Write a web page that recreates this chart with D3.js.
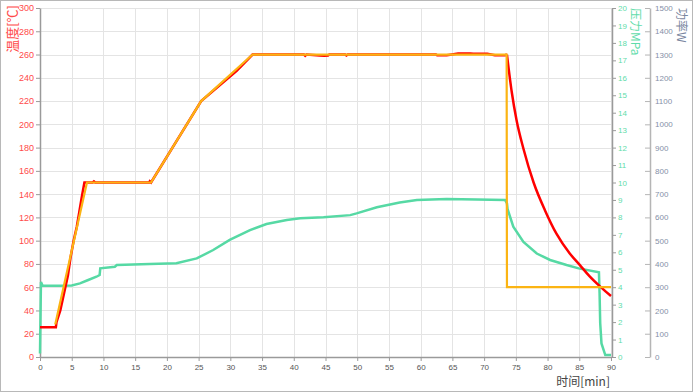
<!DOCTYPE html>
<html>
<head>
<meta charset="utf-8">
<script src="https://cdn.jsdelivr.net/npm/d3@7"></script>
<style>
  body { margin: 0; background: #fff; }
  svg { display: block; font-family: "Liberation Sans", Arial, sans-serif; }
</style>
</head>
<body>
<script>
// setpoint temperature (orange)
let setTime = [2.4, 7.4, 17.5, 25.4, 33.5, 73.55, 73.6, 90];
let setTemp = [28, 150, 150, 220, 260, 260, 60, 60];

// measured temperature (red) - heating part
let tempTime = [0, 2.5, 2.6, 3.2, 3.8, 4.4, 4.8, 5.3, 5.8, 6.2, 6.6, 7.0, 8.3, 8.5, 8.7, 17.2, 17.3, 17.5, 25.4, 31, 33.5,
    41.6, 41.8, 42.0, 44.1, 44.8, 45.4, 45.6, 48.1, 48.3, 48.5, 62.4, 62.6, 63.3, 64.1, 64.9, 65.9, 67.8, 68.3, 70.5, 71.7, 73.3, 73.6];
let tempVal = [25.5, 25.5, 30, 40, 55, 70, 85, 100, 112, 125, 138, 150, 150, 151, 150, 150, 151, 150, 220, 246, 260,
    260, 259, 260, 259.2, 259, 259.2, 260, 260, 259.2, 260, 260, 259.3, 259.3, 259.4, 260, 260.8, 260.8, 260.6, 260.6, 259.3, 259.4, 260];

// measured temperature (red) - cooling part
let coolTime = [73.6, 74.35, 75.1, 76.2, 77.8, 79.6, 81.4, 83.5, 85.1, 86.6, 88.3, 90];
let coolVal = [260, 228, 204, 179, 150, 126, 106, 89, 79, 69.5, 60.5, 52.4];

// pressure MPa (green)
let presTime = [0, 0.15, 0.4, 3, 5, 6.3, 7.5, 8.9, 9.4, 9.5, 11.8, 12.1, 17.3, 21.5, 24.7, 27.3, 29.9, 33.1, 35.7, 38.9, 41,
    44.7, 48.9, 49.9, 53.1, 56.7, 59.4, 64.1, 68.8, 73.3, 73.6, 73.7, 74.6, 76.2, 78.3, 80.4, 83, 84.9, 88.1, 88.2, 88.3, 88.5, 89.1, 90];
let presVal = [0.2, 4.3, 4.1, 4.08, 4.1, 4.22, 4.4, 4.6, 4.7, 5.08, 5.17, 5.27, 5.33, 5.37, 5.65, 6.13, 6.71, 7.27, 7.62, 7.85, 7.95,
    8.01, 8.13, 8.23, 8.58, 8.85, 9.0, 9.05, 9.03, 9.0, 8.8, 8.47, 7.47, 6.6, 5.93, 5.56, 5.27, 5.08, 4.85, 3.65, 1.93, 0.78, 0.11, 0.11];

let xTicks = d3.range(0, 91, 5);
let tempTicks = d3.range(0, 301, 20);
let presTicks = d3.range(0, 21, 1);
let powerTicks = d3.range(0, 1501, 100);

let width = 693, height = 392;
let svg = d3.select("body").append("svg")
    .attr("width", width)
    .attr("height", height);

let x = d3.scaleLinear().domain([0, 90]).range([40, 611]);
let yT = d3.scaleLinear().domain([0, 300]).range([357, 8]);
let yP = d3.scaleLinear().domain([0, 20]).range([357, 8]);
let yW = d3.scaleLinear().domain([0, 1500]).range([357, 8]);

// outer frame
svg.append("rect")
    .attr("x", 0.5).attr("y", 0.5)
    .attr("width", width - 1).attr("height", height - 1)
    .attr("fill", "none").attr("stroke", "#b8b8b8");

// grid
let grid = svg.append("g").attr("stroke", "#e4e4e4").attr("stroke-width", 1);
grid.selectAll(".vg").data(xTicks.slice(1)).join("line")
    .attr("x1", d => Math.round(x(d)) + 0.5).attr("x2", d => Math.round(x(d)) + 0.5)
    .attr("y1", yT(300)).attr("y2", yT(0));
grid.selectAll(".hg").data(tempTicks.slice(1)).join("line")
    .attr("y1", d => Math.round(yT(d)) + 0.5).attr("y2", d => Math.round(yT(d)) + 0.5)
    .attr("x1", x(0)).attr("x2", x(90));

function styleAxis(g, color, lineColor, size) {
    g.select(".domain").attr("stroke", lineColor).attr("stroke-width", 1.5);
    g.selectAll(".tick line").attr("stroke", lineColor);
    g.selectAll(".tick text").attr("fill", color).style("font-size", size + "px");
}

// x axis
let gx = svg.append("g").attr("transform", `translate(0,${yT(0)})`);
gx.call(d3.axisBottom(x).tickValues(d3.range(0, 91, 1)).tickSize(3).tickFormat(""));
gx.call(d3.axisBottom(x).tickValues(xTicks).tickSizeInner(4).tickSizeOuter(0).tickPadding(3));
styleAxis(gx, "#555", "#9a9a9a", 8);

// left temperature axis
let gl = svg.append("g").attr("transform", `translate(${x(0)},0)`);
gl.call(d3.axisLeft(yT).tickValues(d3.range(0, 301, 5)).tickSize(2).tickFormat(""));
gl.call(d3.axisLeft(yT).tickValues(tempTicks).tickSizeInner(4).tickSizeOuter(0).tickPadding(2));
styleAxis(gl, "#ff4a4a", "#9a9a9a", 9);

// pressure axis
let gp = svg.append("g").attr("transform", `translate(612,0)`);
gp.call(d3.axisRight(yP).tickValues(d3.range(0, 20.01, 0.25)).tickSize(2).tickFormat(""));
gp.call(d3.axisRight(yP).tickValues(presTicks).tickSizeInner(4).tickSizeOuter(0).tickPadding(2));
styleAxis(gp, "#5fdcaa", "#9a9a9a", 8);

// power axis
let gw = svg.append("g").attr("transform", `translate(650,0)`);
gw.call(d3.axisRight(yW).tickValues(d3.range(0, 1501, 25)).tickSizeInner(-2).tickSizeOuter(0).tickFormat(""));
gw.call(d3.axisRight(yW).tickValues(powerTicks).tickSizeInner(-5).tickSizeOuter(0).tickPadding(5).tickFormat(d3.format("d")));
styleAxis(gw, "#8590a8", "#b5b5b5", 8);

// series
let presLine = d3.line().x((d, i) => x(presTime[i])).y(d => yP(d));
svg.append("path").datum(presVal)
    .attr("d", presLine)
    .attr("fill", "none").attr("stroke", "#56d9a4").attr("stroke-width", 2.5);

let tempLine = d3.line().x((d, i) => x(tempTime[i])).y(d => yT(d));
svg.append("path").datum(tempVal)
    .attr("d", tempLine)
    .attr("fill", "none").attr("stroke", "#ff0000").attr("stroke-width", 2.5);

let coolLine = d3.line().x((d, i) => x(coolTime[i])).y(d => yT(d)).curve(d3.curveMonotoneX);
svg.append("path").datum(coolVal)
    .attr("d", coolLine)
    .attr("fill", "none").attr("stroke", "#ff0000").attr("stroke-width", 2.5);

let setLine = d3.line().x((d, i) => x(setTime[i])).y(d => yT(d));
svg.append("path").datum(setTemp)
    .attr("d", setLine)
    .attr("fill", "none").attr("stroke", "#fbb413").attr("stroke-width", 2.2);

// titles
let cjk = '"Noto Sans CJK SC", "Liberation Sans", sans-serif';
svg.append("text")
    .attr("transform", "translate(11,5) rotate(-90)")
    .attr("text-anchor", "end").attr("dominant-baseline", "central")
    .style("font-family", cjk).style("font-size", "13px")
    .attr("fill", "#ff4a4a")
    .text("温度[℃]");

svg.append("text")
    .attr("transform", "translate(636,8) rotate(90)")
    .attr("text-anchor", "start").attr("dominant-baseline", "central")
    .style("font-family", cjk).style("font-size", "12px")
    .attr("fill", "#5fdcaa")
    .text("压力MPa");

svg.append("text")
    .attr("transform", "translate(682,8) rotate(90)")
    .attr("text-anchor", "start").attr("dominant-baseline", "central")
    .style("font-family", cjk).style("font-size", "12px")
    .attr("fill", "#7a86a0")
    .text("功率W");

svg.append("text")
    .attr("x", 610).attr("y", 386)
    .attr("text-anchor", "end")
    .style("font-family", cjk).style("font-size", "12px")
    .attr("fill", "#444")
    .text("时间[min]");
</script>
</body>
</html>
